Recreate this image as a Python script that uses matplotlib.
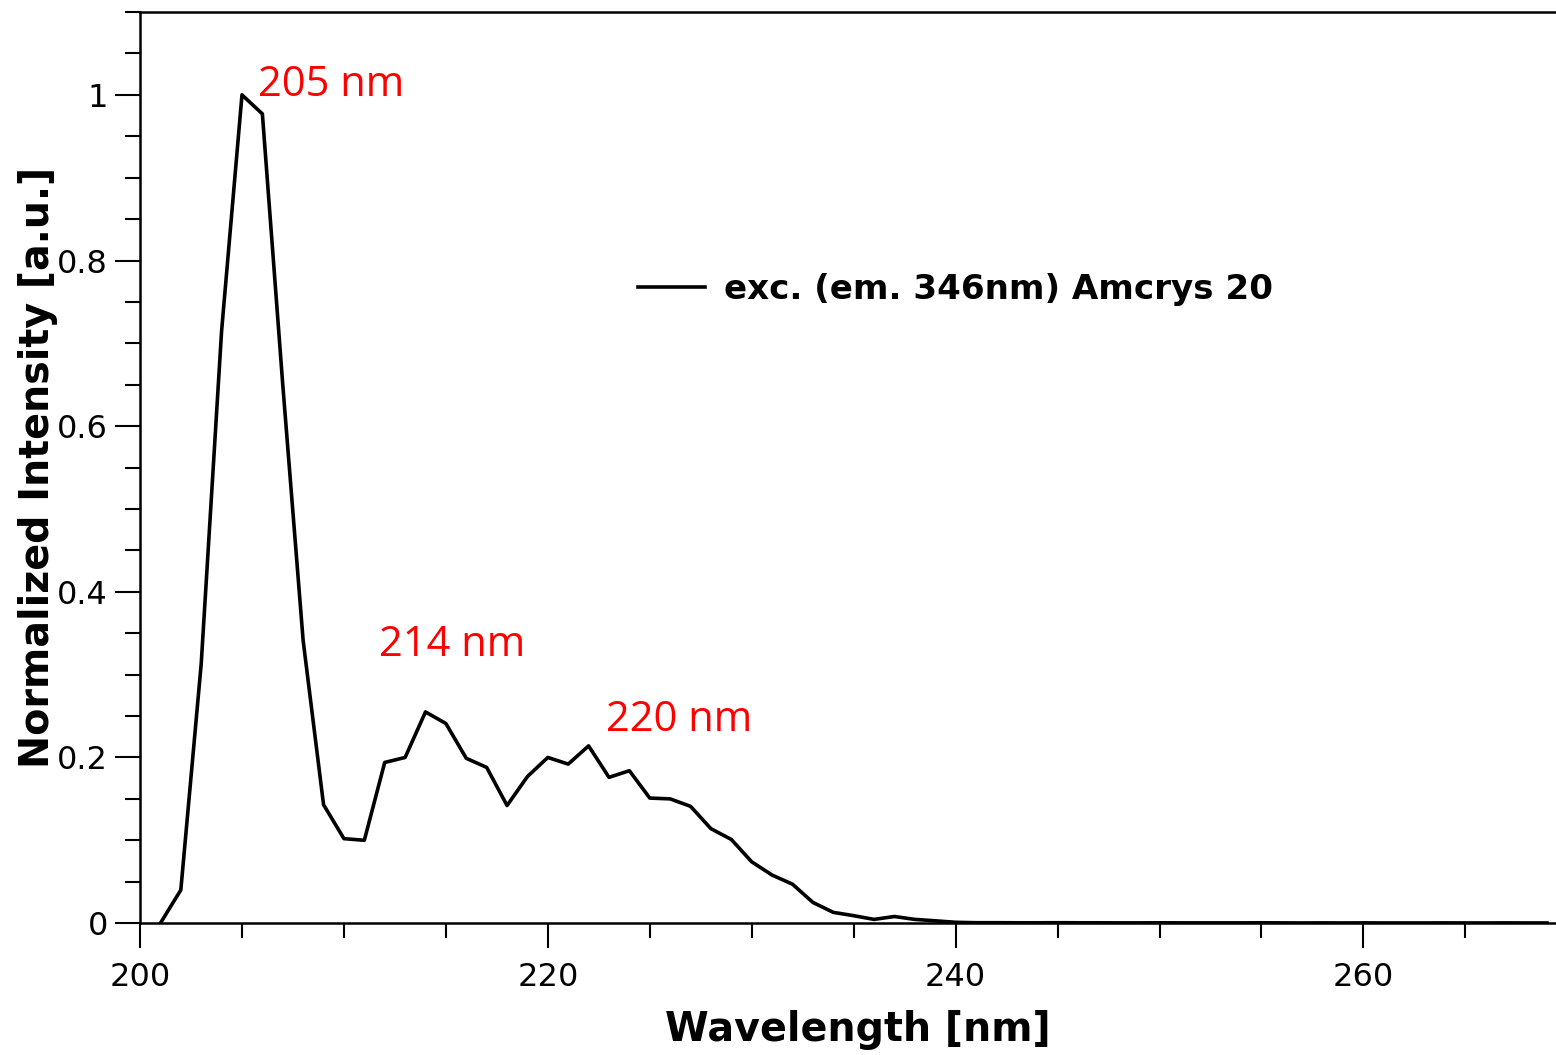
import numpy as np
import matplotlib
matplotlib.use("Agg")
import matplotlib.pyplot as plt
from matplotlib.ticker import MultipleLocator

# excitation spectrum (1 nm steps)
wavelength = np.arange(201, 270)
intensity = [
    0.0, 0.040, 0.313, 0.715, 1.0, 0.977, 0.65, 0.341, 0.143, 0.102,
    0.100, 0.194, 0.200, 0.255, 0.241, 0.199, 0.188, 0.142, 0.177, 0.200,
    0.192, 0.214, 0.176, 0.184, 0.151, 0.150, 0.141, 0.114, 0.101, 0.074,
    0.058, 0.047, 0.025, 0.013, 0.009, 0.0045, 0.008, 0.0045, 0.0028, 0.001,
    0.0005, 0.0005, 0.0004, 0.0004, 0.0005, 0.0004, 0.0004, 0.0003, 0.0003, 0.0004,
    0.0003, 0.0003, 0.0003, 0.0003, 0.0004, 0.0003, 0.0002, 0.0003, 0.0002, 0.0003,
    0.0002, 0.0002, 0.0002, 0.0003, 0.0002, 0.0002, 0.0003, 0.0002, 0.0002,
]
series_label = "exc. (em. 346nm) Amcrys 20"

peak_labels = ["205 nm", "214 nm", "220 nm"]
peak_label_x = [205.8, 211.7, 222.85]
peak_label_y = [1.012, 0.336, 0.245]

fig = plt.figure(figsize=(15.56, 10.55), dpi=100)
ax = fig.add_axes([0.090, 0.125, 0.9094, 0.8636])

ax.plot(wavelength, intensity, color="black", lw=2.6, label=series_label)

for txt, x, y in zip(peak_labels, peak_label_x, peak_label_y):
    ax.text(x, y, txt, color="red", fontsize=30, family="Open Sans",
            ha="left", va="center")

ax.set_xlim(200, 269.4)
ax.set_ylim(0, 1.1)
ax.xaxis.set_major_locator(MultipleLocator(20))
ax.xaxis.set_minor_locator(MultipleLocator(5))
ax.yaxis.set_minor_locator(MultipleLocator(0.05))
ax.set_yticks([0, 0.2, 0.4, 0.6, 0.8, 1.0])
ax.set_yticklabels(["0", "0.2", "0.4", "0.6", "0.8", "1"])

ax.tick_params(which="major", direction="out", length=18, width=1.5, labelsize=23)
ax.tick_params(axis="x", which="major", pad=10)
ax.tick_params(axis="y", which="major", pad=5)
ax.tick_params(which="minor", direction="out", length=11, width=1.5)
for s in ax.spines.values():
    s.set_linewidth(1.8)
ax.spines["right"].set_visible(False)

ax.set_xlabel("Wavelength [nm]", fontsize=28.5, fontweight="bold", labelpad=12)
ax.xaxis.label.set_x(0.507)
ax.set_ylabel("Normalized Intensity [a.u.]", fontsize=28.5, fontweight="bold")
ax.yaxis.set_label_coords(-0.058, 0.5)

leg = ax.legend(loc="center left", bbox_to_anchor=(0.352, 0.695), frameon=False,
                prop={"size": 24.6, "weight": "bold"}, handlelength=1.95, handletextpad=0.55,
                borderpad=0, borderaxespad=0)

fig.savefig("out.png", dpi=100)
